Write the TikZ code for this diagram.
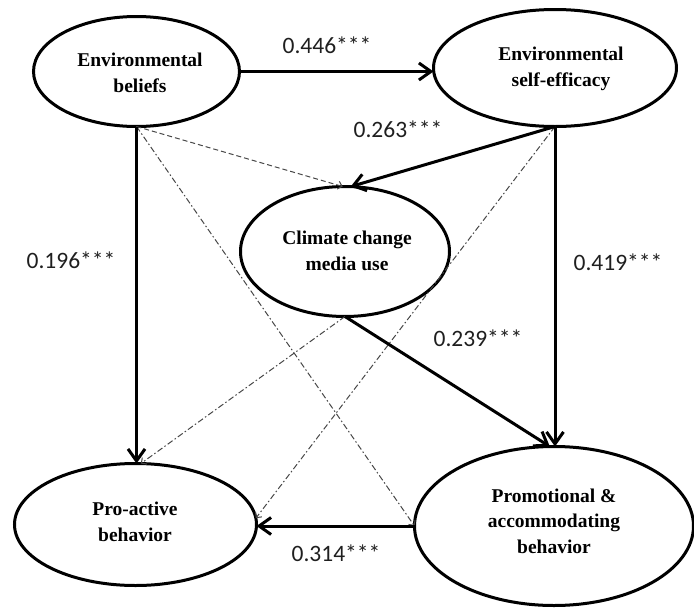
\documentclass[tikz,border=0pt]{standalone}
\usepackage{fontspec}
\setmainfont{Liberation Serif}
\newfontfamily\lblfont{Carlito}
\usetikzlibrary{arrows.meta,shapes.geometric}

\tikzset{
  construct/.style={ellipse, draw=black, line width=3pt, inner sep=0pt, outer sep=0pt},
  ctext/.style={align=center, font=\fontsize{19.5}{25.5}\selectfont\bfseries, inner sep=0pt},
  coef/.style={font=\lblfont\fontsize{23.5}{26}\selectfont, text=black!88, inner sep=0pt},
  path/.style={draw=black, line width=3pt, -{Straight Barb[length=12pt,width=17pt]}},
  nsline/.style={draw=black!72, line width=1pt, -{Straight Barb[length=4pt,width=8pt]}},
  nsdash/.style={nsline, dash pattern=on 5pt off 3pt},
  nsdashdot/.style={nsline, dash pattern=on 6pt off 2.5pt on 1.5pt off 2.5pt},
}

\begin{document}
\begin{tikzpicture}[x=1pt,y=-1pt]
\useasboundingbox (0,0) rectangle (694,608);

% constructs
\node[construct, minimum width=206pt, minimum height=110pt] (B) at (136.5,71.5) {};
\node[construct, minimum width=243pt, minimum height=117pt] (S) at (555,68) {};
\node[construct, minimum width=209pt, minimum height=130pt] (C) at (345,251.5) {};
\node[construct, minimum width=242pt, minimum height=122pt] (P) at (135.5,524.5) {};
\node[construct, minimum width=279pt, minimum height=159pt] (M) at (554,526) {};

\node[ctext] (Btxt) at (140,73) {Environmental\\beliefs};
\node[ctext] (Stxt) at (561,69) {Environmental\\self-efficacy};
\node[ctext] (Ctxt) at (347,251) {Climate change\\media use};
\node[ctext] (Ptxt) at (135,522) {Pro-active\\behavior};
\node[ctext] (Mtxt) at (554,521) {Promotional \&\\accommodating\\behavior};

% non-significant paths
\draw[nsdash] (B.south) -- (C.92);
\draw[nsdashdot] (B.south) -- (M.west);
\draw[nsdashdot] (S.south) -- (P.3);
\draw[nsdashdot] (C.south) -- (P.85);

% significant paths
\draw[path] (B.east) -- (B.east -| S.west);
\draw[path] (S.south) -- (C.85);
\draw[path] (B.south) -- (B.south |- P.north);
\draw[path] (S.south) -- (S.south |- M.north);
\draw[path] (C.south) -- (M.93);
\draw[path] (M.west) -- (M.west -| P.east);

% path coefficients
\node[coef] (L1) at (327,45.5) {0.446***};
\node[coef] (L2) at (398,129.5) {0.263***};
\node[coef] (L3) at (71,260.5) {0.196***};
\node[coef] (L4) at (618,262.5) {0.419***};
\node[coef] (L5) at (478,338) {0.239***};
\node[coef] (L6) at (336,553) {0.314***};
\end{tikzpicture}
\end{document}
